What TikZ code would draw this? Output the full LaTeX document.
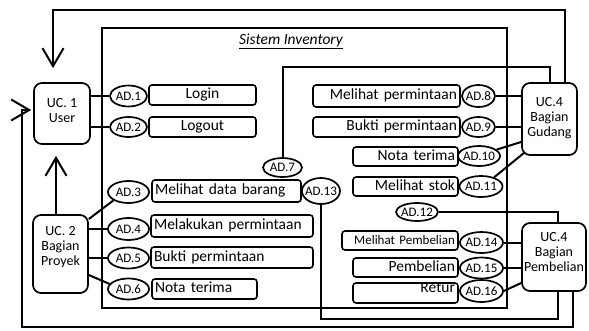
\documentclass[tikz,border=0pt]{standalone}
\usepackage{fontspec}
\setmainfont{Carlito}
\usetikzlibrary{arrows.meta,shapes.geometric}
\newcommand{\adlbl}[1]{\makebox[0pt]{AD.#1}}
\begin{document}
\begin{tikzpicture}[x=1pt,y=-1pt,
  conn/.style={line width=2pt},
  flow/.style={line width=2pt,-{Straight Barb[length=18pt,width=21pt,line width=2pt]}},
  sysbox/.style={draw,line width=2pt},
  ucbox/.style={draw,line width=1.7pt,rounded corners=8pt,inner sep=0pt},
  uctext/.style={align=center,inner sep=0pt,font=\fontsize{14}{15}\selectfont},
  act/.style={draw,line width=1.6pt,rounded corners=3pt,inner xsep=3pt,inner ysep=0pt,
    text height=11pt,text depth=3.5pt,font=\fontsize{15.5}{17}\selectfont},
  ad/.style 2 args={draw,ellipse,line width=1.7pt,inner sep=0pt,
    minimum width=#1pt,minimum height=#2pt,font=\fontsize{13}{14}\selectfont},
]
\useasboundingbox (0,0) rectangle (589,330);

% system boundary and its title
\draw[sysbox] (102,28) rectangle (507,308);
\node[font=\fontsize{15.5}{17}\selectfont\itshape,inner sep=0pt] (title) at (291,41) {\underline{Sistem Inventory}};

% actors
\node[ucbox,minimum width=56pt,minimum height=61pt] (uc1) at (62,113.5) {};
\node[uctext] (uc1t) at (62,110.5) {UC. 1\\User};
\node[ucbox,minimum width=55pt,minimum height=78pt] (uc2) at (60.5,254) {};
\node[uctext] (uc2t) at (60.5,247) {UC. 2\\Bagian\\Proyek};
\node[ucbox,minimum width=55pt,minimum height=72pt] (uc4g) at (549.5,119) {};
\node[uctext] (uc4gt) at (549.5,118) {UC.4\\Bagian\\Gudang};
\node[ucbox,minimum width=64pt,minimum height=68pt] (uc4p) at (554,257) {};
\node[uctext] (uc4pt) at (554,252) {UC.4\\Bagian\\Pembelian};

% activities, left column
\node[act,text width=101pt,minimum height=20pt,align=center] (login) at (202.5,95) {Login};
\node[act,text width=101pt,minimum height=20pt,align=center] (logout) at (202.5,127) {Logout};
\node[act,text width=143pt,minimum height=22pt,align=left] (lihatdata) at (226.5,191) {Melihat data barang};
\node[act,text width=156pt,minimum height=22pt,align=left] (minta) at (232,226) {Melakukan permintaan};
\node[act,text width=156pt,minimum height=21pt,align=left] (buktiL) at (232,257.5) {Bukti permintaan};
\node[act,text width=99pt,minimum height=20pt,align=left] (notaL) at (204.5,289) {Nota terima};

% activities, right column
\node[act,text width=141pt,minimum height=22pt,align=right] (lihatminta) at (386.5,96) {Melihat permintaan};
\node[act,text width=141pt,minimum height=20pt,align=right] (buktiR) at (386.5,127) {Bukti permintaan};
\node[act,text width=99pt,minimum height=19pt,align=right] (notaR) at (405.5,156.5) {Nota terima};
\node[act,text width=99pt,minimum height=19pt,align=right] (stok) at (405.5,186.5) {Melihat stok};
\node[act,text width=110pt,minimum height=19pt,align=right,font=\fontsize{13}{14}\selectfont] (lihatbeli) at (400,240.5) {Melihat Pembelian};
\node[act,text width=99pt,minimum height=19pt,align=right] (beli) at (405.5,267.5) {Pembelian};
\node[act,text width=99pt,minimum height=20pt,align=right] (retur) at (405.5,293) {\raisebox{4pt}{Retur}};

% activity diagram references
\node[ad={37}{21}] (ad1) at (128.5,96) {\adlbl{1}};
\node[ad={37}{20}] (ad2) at (128.5,127) {\adlbl{2}};
\node[ad={41}{22}] (ad3) at (128.5,192) {\adlbl{3}};
\node[ad={41}{22}] (ad4) at (128.5,229) {\adlbl{4}};
\node[ad={41}{21}] (ad5) at (128.5,258) {\adlbl{5}};
\node[ad={41}{21}] (ad6) at (128.5,289) {\adlbl{6}};
\node[ad={39}{19}] (ad7) at (282.5,167.5) {\adlbl{7}};
\node[ad={38}{26}] (ad13) at (321,191) {\adlbl{13}};
\node[ad={33}{22}] (ad8) at (478.5,96) {\adlbl{8}};
\node[ad={33}{20}] (ad9) at (478.5,127) {\adlbl{9}};
\node[ad={42}{20}] (ad10) at (479,156) {\adlbl{10}};
\node[ad={43}{21}] (ad11) at (481,186.5) {\adlbl{11}};
\node[ad={42}{18}] (ad12) at (417,212) {\adlbl{12}};
\node[ad={43}{21}] (ad14) at (481.5,242.5) {\adlbl{14}};
\node[ad={43}{21}] (ad15) at (481.5,268) {\adlbl{15}};
\node[ad={43}{22}] (ad16) at (481.5,291) {\adlbl{16}};

% user links
\draw[conn] (uc1.east |- ad1) -- (ad1.west);
\draw[conn] (uc1.east |- ad2) -- (ad2.west);

% project links
\draw[conn] (uc2.east |- 0,219) -- (ad3.south west);
\draw[conn] (uc2.east |- ad4) -- (ad4.west);
\draw[conn] (uc2.east |- ad5) -- (ad5.west);
\draw[conn] (uc2.east |- 0,275) -- (ad6.165);
\draw[flow,shorten >=11pt] (uc2.north -| 56,0) -- (uc1.south -| 56,0);

% warehouse links
\draw[conn] (ad7.north) -- (282.5,67) -- (550,67) -- (uc4g.north -| 550,0);
\draw[conn] (ad8.east) -- (uc4g.west |- ad8);
\draw[conn] (ad9.east) -- (uc4g.west |- ad9);
\draw[conn] (ad10.20) -- (uc4g.west |- 0,142);
\draw[conn] (ad11.35) -- (524.5,152.5);
\draw[flow,shorten >=14pt] (uc4g.north -| 565,0) -- (565,10) -- (53,10) -- (uc1.north -| 53,0);

% purchasing links
\draw[conn] (ad12.east) -- (558,212) -- (uc4p.north -| 558,0);
\draw[conn] (ad14.east) -- (uc4p.west |- ad14);
\draw[conn] (ad15.east) -- (uc4p.west |- ad15);
\draw[conn] (ad16.east) -- (uc4p.west |- 0,283);
\draw[conn] (ad13.south) -- (321,319) -- (558,319) -- (uc4p.south -| 558,0);
\draw[flow,shorten >=2pt] (uc4p.south -| 573,0) -- (573,327) -- (22,327) -- (22,110) -- (uc1.west |- 0,110);
\end{tikzpicture}
\end{document}
